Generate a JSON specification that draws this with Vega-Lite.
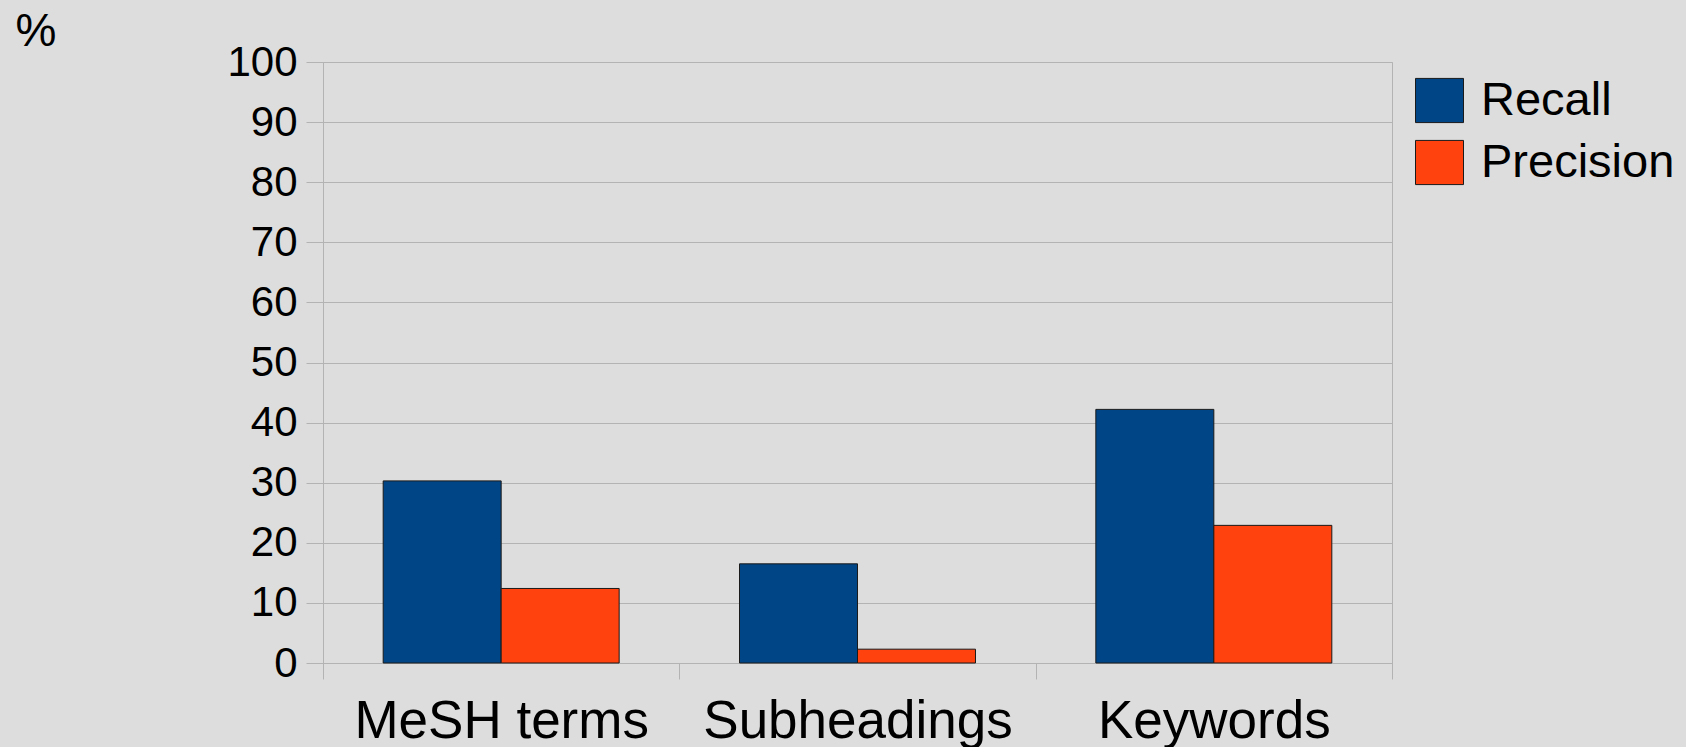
{
  "$schema": "https://vega.github.io/schema/vega-lite/v6.json",
  "autosize": "none",
  "width": 1069,
  "height": 601,
  "padding": {"left": 323, "top": 62, "right": 294, "bottom": 84},
  "background": "#dddddd",
  "config": {
    "font": "Liberation Sans",
    "view": {"stroke": "#b3b3b3", "strokeWidth": 1}
  },
  "data": {
    "values": [
      {"category": "MeSH terms", "measure": "Recall", "value": 30.3},
      {"category": "MeSH terms", "measure": "Precision", "value": 12.4},
      {"category": "Subheadings", "measure": "Recall", "value": 16.5},
      {"category": "Subheadings", "measure": "Precision", "value": 2.3},
      {"category": "Keywords", "measure": "Recall", "value": 42.2},
      {"category": "Keywords", "measure": "Precision", "value": 22.9}
    ]
  },
  "mark": {"type": "bar", "stroke": "#1a1a1a", "strokeWidth": 1},
  "encoding": {
    "x": {
      "field": "category",
      "type": "nominal",
      "sort": null,
      "scale": {"paddingInner": 0, "paddingOuter": 0},
      "axis": {
        "title": null,
        "labelAngle": 0,
        "labelFontSize": 53,
        "labelColor": "#000000",
        "labelPadding": 16,
        "labelLimit": 0,
        "tickBand": "extent",
        "tickSize": 16,
        "tickColor": "#b3b3b3",
        "domainColor": "#b3b3b3",
        "grid": false
      }
    },
    "xOffset": {
      "field": "measure",
      "type": "nominal",
      "sort": ["Recall", "Precision"],
      "scale": {"paddingInner": 0, "paddingOuter": 0.51}
    },
    "y": {
      "field": "value",
      "type": "quantitative",
      "scale": {"domain": [0, 100], "nice": false},
      "axis": {
        "title": "%",
        "titleAngle": 0,
        "titleAlign": "left",
        "titleBaseline": "alphabetic",
        "titleX": -308,
        "titleY": -17,
        "titleFontSize": 46,
        "titleFontWeight": "normal",
        "titleColor": "#000000",
        "values": [0, 10, 20, 30, 40, 50, 60, 70, 80, 90, 100],
        "labelFontSize": 42,
        "labelColor": "#000000",
        "labelPadding": 9,
        "tickSize": 17,
        "tickColor": "#b3b3b3",
        "domainColor": "#b3b3b3",
        "gridColor": "#b3b3b3",
        "grid": true
      }
    },
    "color": {
      "field": "measure",
      "type": "nominal",
      "scale": {"domain": ["Recall", "Precision"], "range": ["#004586", "#ff420e"]},
      "legend": {
        "title": null,
        "orient": "none",
        "legendX": 1092,
        "legendY": 14,
        "symbolType": "M-1,-0.92H1V0.92H-1Z",
        "symbolSize": 2304,
        "symbolStrokeColor": "#1a1a1a",
        "symbolStrokeWidth": 1,
        "labelFontSize": 47,
        "labelColor": "#000000",
        "labelOffset": 17,
        "labelLimit": 0,
        "rowPadding": 13,
        "padding": 0
      }
    }
  }
}
